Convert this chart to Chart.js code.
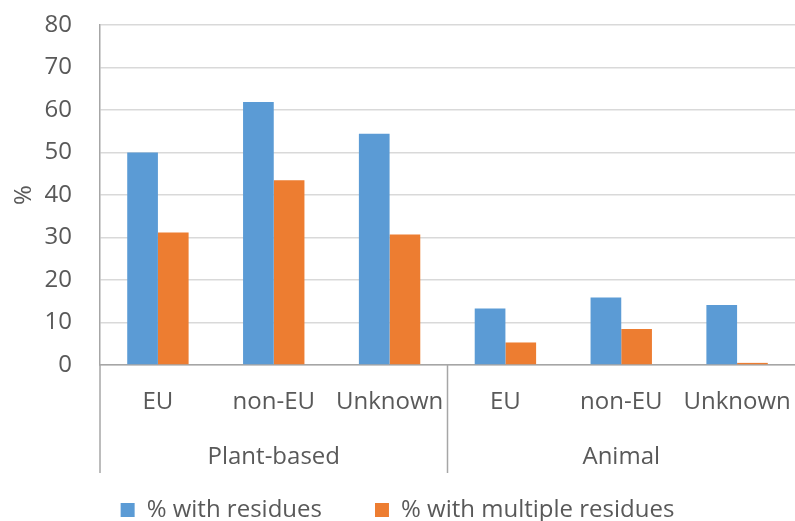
<!DOCTYPE html>
<html>
<head>
<meta charset="utf-8">
<script src="https://cdn.jsdelivr.net/npm/chart.js@4/dist/chart.umd.min.js"></script>
<style>
  html, body { margin: 0; padding: 0; background: #fff; overflow: hidden; }
  #wrap { width: 795px; height: 521px; position: relative; }
  canvas { display: block; }
</style>
</head>
<body>
<div id="wrap"><canvas id="c"></canvas></div>
<script>
// Residue findings by origin, grouped by product type
const categories = ['EU', 'non-EU', 'Unknown', 'EU', 'non-EU', 'Unknown'];
const groups = ['Plant-based', 'Animal'];
const groupSizes = [3, 3];
const withResidues = [50.0, 61.9, 54.4, 13.3, 15.9, 14.1];
const withMultipleResidues = [31.2, 43.5, 30.7, 5.3, 8.5, 0.5];
const yTicks = [0, 10, 20, 30, 40, 50, 60, 70, 80];

const FONT = "'Open Sans', 'Noto Sans', sans-serif";
const SIZE = 24;
const TEXT = '#595959';
const PAD_BOTTOM = -11;

// Second level of the category axis: group names and dividers
const groupAxis = {
  id: 'groupAxis',
  afterDraw(chart) {
    const x = chart.scales.x;
    const area = chart.chartArea;
    const ctx = chart.ctx;
    const half = (x.getPixelForValue(1) - x.getPixelForValue(0)) / 2;
    const lineBottom = area.bottom + 108;
    ctx.save();
    ctx.strokeStyle = '#A6A6A6';
    ctx.lineWidth = 1.5;
    let start = 0;
    groups.forEach((name, g) => {
      const end = start + groupSizes[g] - 1;
      const left = x.getPixelForValue(start) - half;
      ctx.beginPath();
      ctx.moveTo(left, area.bottom);
      ctx.lineTo(left, lineBottom);
      ctx.stroke();
      const cx = (x.getPixelForValue(start) + x.getPixelForValue(end)) / 2;
      ctx.fillStyle = TEXT;
      ctx.font = SIZE + 'px ' + FONT;
      ctx.textAlign = 'center';
      ctx.textBaseline = 'middle';
      ctx.fillText(name, cx, area.bottom + 92);
      start = end + 1;
    });
    ctx.restore();
  }
};

new Chart(document.getElementById('c'), {
  type: 'bar',
  data: {
    labels: categories,
    datasets: [
      { label: '% with residues', data: withResidues, backgroundColor: '#5B9BD5' },
      { label: '% with multiple residues', data: withMultipleResidues, backgroundColor: '#ED7D31' }
    ]
  },
  options: {
    responsive: true,
    maintainAspectRatio: false,
    animation: false,
    layout: { padding: { top: 25, right: 0, bottom: PAD_BOTTOM, left: 0 } },
    datasets: { bar: { categoryPercentage: 0.53, barPercentage: 1.0 } },
    plugins: {
      tooltip: { enabled: false },
      legend: {
        position: 'bottom',
        labels: {
          font: { family: FONT, size: SIZE },
          color: TEXT,
          boxWidth: 14,
          boxHeight: 14,
          padding: 53,
          useBorderRadius: false
        }
      }
    },
    scales: {
      x: {
        grid: { display: false, drawTicks: false },
        border: { display: true, color: '#A6A6A6', width: 1.5 },
        ticks: { font: { family: FONT, size: SIZE }, color: TEXT, padding: 23, maxRotation: 0, autoSkip: false },
        afterFit(s) {
          s.height = s.chart.height - PAD_BOTTOM - s.chart.legend.height - 365;
          s.paddingLeft = 0;
          s.paddingRight = 0;
        }
      },
      y: {
        min: 0, max: 80,
        afterBuildTicks(s) { s.ticks = yTicks.map(v => ({ value: v })); },
        grid: { color: '#D9D9D9', lineWidth: 1.5, drawTicks: false },
        border: { display: true, color: '#A6A6A6', width: 1.5 },
        ticks: { font: { family: FONT, size: SIZE }, color: TEXT, padding: 28 },
        title: { display: true, text: '%', font: { family: FONT, size: SIZE }, color: TEXT, padding: { top: 10, bottom: 0 } },
        afterFit(s) {
          s.width = 100;
          s.paddingTop = 0;
          s.paddingBottom = 0;
        }
      }
    }
  },
  plugins: [groupAxis]
});
</script>
</body>
</html>
